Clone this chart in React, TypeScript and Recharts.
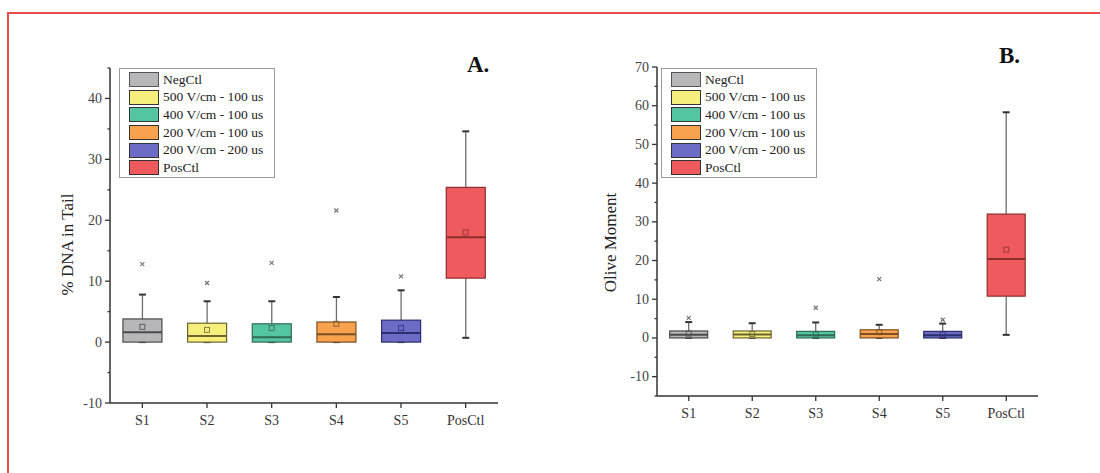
import React from 'react';
import { Bar, Cell, ComposedChart, Label, Legend, Scatter, XAxis, YAxis } from 'recharts';

const CATEGORIES = ['S1', 'S2', 'S3', 'S4', 'S5', 'PosCtl'];
const LEGEND_LABELS = ['NegCtl', '500 V/cm - 100 us', '400 V/cm - 100 us', '200 V/cm - 100 us', '200 V/cm - 200 us', 'PosCtl'];

// panel A - % DNA in tail
const DNA_MIN = [0, 0, 0, 0, 0, 0.7];
const DNA_Q1 = [0, 0, 0, 0, 0, 10.5];
const DNA_MEDIAN = [1.6, 1.0, 0.8, 1.3, 1.5, 17.2];
const DNA_Q3 = [3.8, 3.1, 3.0, 3.3, 3.6, 25.4];
const DNA_MAX = [7.8, 6.7, 6.7, 7.4, 8.5, 34.6];
const DNA_MEAN = [2.5, 2.0, 2.3, 3.0, 2.3, 18.0];
const DNA_OUTLIER = [12.8, 9.7, 13.0, 21.6, 10.8, null];
const DNA_TICKS = [-10, -5, 0, 5, 10, 15, 20, 25, 30, 35, 40, 45];

// panel B - olive moment
const OM_MIN = [0, 0, 0, 0, 0, 0.8];
const OM_Q1 = [0, 0, 0, 0, 0, 10.8];
const OM_MEDIAN = [0.8, 0.9, 0.7, 1.0, 0.7, 20.4];
const OM_Q3 = [1.8, 1.8, 1.7, 2.1, 1.7, 32.0];
const OM_MAX = [4.1, 3.8, 4.0, 3.4, 3.7, 58.3];
const OM_MEAN = [1.1, 1.0, 0.9, 1.5, 0.9, 22.8];
const OM_OUTLIER = [5.2, null, 7.8, 15.2, 4.7, null];
const OM_TICKS = [-15, -10, -5, 0, 5, 10, 15, 20, 25, 30, 35, 40, 45, 50, 55, 60, 65, 70];

const FILLS = ['#b7b7ba', '#f6ef7d', '#55c4a2', '#f8a24e', '#6c6cc6', '#ef5a5c'];
const DARKS = ['#4a4a4a', '#6b6430', '#2f6b56', '#7a4f22', '#2e2e6e', '#8c2e2e'];

const FONT = '"Liberation Serif", "Times New Roman", serif';

const buildRows = (min: number[], q1: number[], median: number[], q3: number[], max: number[], mean: number[], outlier: (number | null)[]) =>
  CATEGORIES.map((name, i) => ({
    name,
    min: min[i],
    q1: q1[i],
    median: median[i],
    q3: q3[i],
    max: max[i],
    mean: mean[i],
    outlier: outlier[i],
  }));

const dnaData = buildRows(DNA_MIN, DNA_Q1, DNA_MEDIAN, DNA_Q3, DNA_MAX, DNA_MEAN, DNA_OUTLIER);
const omData = buildRows(OM_MIN, OM_Q1, OM_MEDIAN, OM_Q3, OM_MAX, OM_MEAN, OM_OUTLIER);

// bar spans min..max, the rest is placed with the same px/unit ratio
const BoxShape = (props: any) => {
  const { x, y, width, height, payload, fill, stroke } = props;
  const span = payload.max - payload.min;
  const k = span > 0 ? height / span : 0;
  const py = (v: number) => y + (payload.max - v) * k;
  const cx = x + width / 2;
  return (
    <g>
      <line x1={cx} x2={cx} y1={py(payload.max)} y2={py(payload.q3)} stroke="#6e6e6e" strokeWidth={1.3} />
      <line x1={cx} x2={cx} y1={py(payload.q1)} y2={py(payload.min)} stroke="#6e6e6e" strokeWidth={1.3} />
      <line x1={cx - 3.5} x2={cx + 3.5} y1={py(payload.max)} y2={py(payload.max)} stroke="#333" strokeWidth={2} />
      <line x1={cx - 3.5} x2={cx + 3.5} y1={py(payload.min)} y2={py(payload.min)} stroke="#333" strokeWidth={2} />
      <rect
        x={x}
        y={py(payload.q3)}
        width={width}
        height={Math.max(py(payload.q1) - py(payload.q3), 0)}
        fill={fill}
        stroke={stroke}
        strokeWidth={1.2}
      />
      <line x1={x} x2={x + width} y1={py(payload.median)} y2={py(payload.median)} stroke={stroke} strokeWidth={2} />
    </g>
  );
};

const MeanShape = (props: any) => {
  const { cx, cy, stroke } = props;
  if (cx == null || cy == null) return <g />;
  return <rect x={cx - 2.5} y={cy - 2.5} width={5} height={5} fill="none" stroke={stroke} strokeWidth={1} opacity={0.8} />;
};

const OutlierShape = (props: any) => {
  const { cx, cy, payload } = props;
  if (payload.outlier == null || cx == null || cy == null) return <g />;
  return (
    <g stroke="#777" strokeWidth={1.2}>
      <line x1={cx - 2} x2={cx + 2} y1={cy - 2} y2={cy + 2} />
      <line x1={cx - 2} x2={cx + 2} y1={cy + 2} y2={cy - 2} />
    </g>
  );
};

const makeYTick = (labelEvery: number) => (props: any) => {
  const { x, y, payload } = props;
  const axisX = x + 8;
  const major = payload.value % labelEvery === 0;
  return (
    <g>
      <line x1={major ? axisX - 5 : axisX - 2.5} x2={axisX} y1={y} y2={y} stroke="#333" strokeWidth={1.3} />
      {major && (
        <text x={x} y={y} textAnchor="end" dominantBaseline="central" fontSize={14} fontFamily={FONT} fill="#444">
          {payload.value}
        </text>
      )}
    </g>
  );
};

const makeYLabel = (text: string, dx: number, dy: number) => (props: any) => {
  const { viewBox } = props;
  const cx = viewBox.x + dx;
  const cy = viewBox.y + viewBox.height / 2 + dy;
  return (
    <text
      x={cx}
      y={cy}
      transform={`rotate(-90, ${cx}, ${cy})`}
      textAnchor="middle"
      dominantBaseline="central"
      fontSize={17}
      fontFamily={FONT}
      fill="#222"
    >
      {text}
    </text>
  );
};

const LegendBox = () => (
  <div
    style={{
      width: 156,
      height: 110,
      boxSizing: 'border-box',
      border: '1px solid #9a9a9a',
      padding: '2px 0 0 9px',
      fontFamily: FONT,
      fontSize: 13.5,
      color: '#222',
      background: '#fff',
    }}
  >
    {LEGEND_LABELS.map((label, i) => (
      <div key={label} style={{ display: 'flex', alignItems: 'center', height: 17.6 }}>
        <span
          style={{
            display: 'inline-block',
            width: 30,
            height: 15,
            boxSizing: 'border-box',
            background: FILLS[i],
            border: `1.5px solid ${DARKS[i] === '#4a4a4a' ? '#555' : '#333'}`,
            marginRight: 4,
          }}
        />
        <span style={{ whiteSpace: 'nowrap' }}>{label}</span>
      </div>
    ))}
  </div>
);

interface PanelProps {
  data: any[];
  domain: [number, number];
  ticks: number[];
  title: string;
  margin: { top: number; right: number; bottom: number; left: number };
  labelDx: number;
  labelDy: number;
  legendLeft: number;
}

const BoxPanel: React.FunctionComponent<PanelProps> = ({ data, domain, ticks, title, margin, labelDx, labelDy, legendLeft }) => {
  return (
    <ComposedChart width={520} height={460} data={data} margin={margin} barCategoryGap="20%">
      <XAxis
        dataKey="name"
        type="category"
        height={30}
        axisLine={{ stroke: '#333', strokeWidth: 1.5 }}
        tickLine={{ stroke: '#333', strokeWidth: 1.3 }}
        tickSize={5}
        tickMargin={7}
        tick={{ fontSize: 14, fontFamily: FONT, fill: '#333' }}
      />
      <YAxis
        type="number"
        domain={domain}
        ticks={ticks}
        allowDataOverflow
        width={40}
        axisLine={{ stroke: '#333', strokeWidth: 1.5 }}
        tickLine={false}
        tickSize={5}
        tickMargin={3}
        tick={makeYTick(10)}
        interval={0}
      >
        <Label content={makeYLabel(title, labelDx, labelDy)} />
      </YAxis>
      <Legend
        layout="vertical"
        align="center"
        verticalAlign="middle"
        content={() => <LegendBox />}
        wrapperStyle={{ left: legendLeft, top: 68, width: 156, height: 110 }}
      />
      <Bar dataKey={(d: any) => [d.min, d.max]} shape={BoxShape} isAnimationActive={false}>
        {data.map((d, i) => (
          <Cell key={d.name} fill={FILLS[i]} stroke={DARKS[i]} />
        ))}
      </Bar>
      <Scatter dataKey="mean" shape={MeanShape} isAnimationActive={false}>
        {data.map((d, i) => (
          <Cell key={d.name} fill="none" stroke={DARKS[i]} />
        ))}
      </Scatter>
      <Scatter dataKey="outlier" shape={OutlierShape} isAnimationActive={false} />
    </ComposedChart>
  );
};

const panelTitle: React.CSSProperties = {
  position: 'absolute',
  fontFamily: FONT,
  fontWeight: 'bold',
  fontSize: 23,
  lineHeight: 1,
  color: '#111',
};

const App = () => {
  return (
    <div style={{ position: 'absolute', left: 0, top: 0, width: 1100, height: 473, background: '#fff', overflow: 'hidden' }}>
      <div
        style={{
          position: 'absolute',
          left: 7,
          top: 12,
          width: 1100,
          height: 470,
          borderLeft: '2px solid #ee4b4e',
          borderTop: '2px solid #ee4b4e',
        }}
      />
      <div style={{ position: 'absolute', left: 0, top: 0 }}>
        <BoxPanel
          data={dnaData}
          domain={[-10, 45]}
          ticks={DNA_TICKS}
          title="% DNA in Tail"
          margin={{ top: 68, right: 22, bottom: 27, left: 70 }}
          labelDx={-3}
          labelDy={9}
          legendLeft={119}
        />
      </div>
      <div style={{ position: 'absolute', left: 540, top: 0 }}>
        <BoxPanel
          data={omData}
          domain={[-15, 70]}
          ticks={OM_TICKS}
          title="Olive Moment"
          margin={{ top: 67, right: 22, bottom: 34, left: 77 }}
          labelDx={-7}
          labelDy={11}
          legendLeft={121}
        />
      </div>
      <div style={{ ...panelTitle, left: 467, top: 53 }}>A.</div>
      <div style={{ ...panelTitle, left: 999, top: 44 }}>B.</div>
    </div>
  );
};

export default App;
